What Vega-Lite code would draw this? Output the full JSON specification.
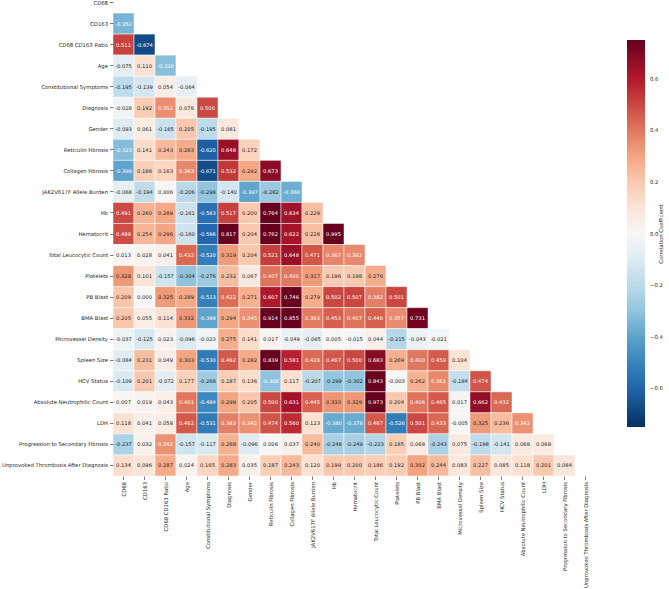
{
"$schema": "https://vega.github.io/schema/vega-lite/v6.json",
"width": 483, "height": 484,
"autosize": {"type": "none"},
"padding": {"left": 113, "top": -8, "right": 73, "bottom": 113},
"background": "white",
"config": {"font": "DejaVu Sans", "view": {"stroke": null}},
"data": {"values": [
{"r":"CD163","c":"CD68","v":-0.352},
{"r":"CD68 CD163 Ratio","c":"CD68","v":0.511},{"r":"CD68 CD163 Ratio","c":"CD163","v":-0.674},
{"r":"Age","c":"CD68","v":-0.075},{"r":"Age","c":"CD163","v":0.110},{"r":"Age","c":"CD68 CD163 Ratio","v":-0.320},
{"r":"Constitutional Symptoms","c":"CD68","v":-0.195},{"r":"Constitutional Symptoms","c":"CD163","v":-0.139},{"r":"Constitutional Symptoms","c":"CD68 CD163 Ratio","v":0.054},{"r":"Constitutional Symptoms","c":"Age","v":-0.064},
{"r":"Diagnosis","c":"CD68","v":-0.028},{"r":"Diagnosis","c":"CD163","v":0.192},{"r":"Diagnosis","c":"CD68 CD163 Ratio","v":0.352},{"r":"Diagnosis","c":"Age","v":0.076},{"r":"Diagnosis","c":"Constitutional Symptoms","v":0.500},
{"r":"Gender","c":"CD68","v":-0.093},{"r":"Gender","c":"CD163","v":0.061},{"r":"Gender","c":"CD68 CD163 Ratio","v":-0.165},{"r":"Gender","c":"Age","v":0.205},{"r":"Gender","c":"Constitutional Symptoms","v":-0.195},{"r":"Gender","c":"Diagnosis","v":0.081},
{"r":"Reticulin Fibrosis","c":"CD68","v":-0.323},{"r":"Reticulin Fibrosis","c":"CD163","v":0.141},{"r":"Reticulin Fibrosis","c":"CD68 CD163 Ratio","v":0.243},{"r":"Reticulin Fibrosis","c":"Age","v":0.283},{"r":"Reticulin Fibrosis","c":"Constitutional Symptoms","v":-0.620},{"r":"Reticulin Fibrosis","c":"Diagnosis","v":0.648},{"r":"Reticulin Fibrosis","c":"Gender","v":0.172},
{"r":"Collagen Fibrosis","c":"CD68","v":-0.399},{"r":"Collagen Fibrosis","c":"CD163","v":0.186},{"r":"Collagen Fibrosis","c":"CD68 CD163 Ratio","v":0.163},{"r":"Collagen Fibrosis","c":"Age","v":0.363},{"r":"Collagen Fibrosis","c":"Constitutional Symptoms","v":-0.671},{"r":"Collagen Fibrosis","c":"Diagnosis","v":0.532},{"r":"Collagen Fibrosis","c":"Gender","v":0.292},{"r":"Collagen Fibrosis","c":"Reticulin Fibrosis","v":0.673},
{"r":"JAK2V617F Allele Burden","c":"CD68","v":-0.068},{"r":"JAK2V617F Allele Burden","c":"CD163","v":-0.194},{"r":"JAK2V617F Allele Burden","c":"CD68 CD163 Ratio","v":0.006},{"r":"JAK2V617F Allele Burden","c":"Age","v":-0.206},{"r":"JAK2V617F Allele Burden","c":"Constitutional Symptoms","v":-0.298},{"r":"JAK2V617F Allele Burden","c":"Diagnosis","v":-0.140},{"r":"JAK2V617F Allele Burden","c":"Gender","v":-0.397},{"r":"JAK2V617F Allele Burden","c":"Reticulin Fibrosis","v":-0.282},{"r":"JAK2V617F Allele Burden","c":"Collagen Fibrosis","v":-0.368},
{"r":"Hb","c":"CD68","v":0.491},{"r":"Hb","c":"CD163","v":0.260},{"r":"Hb","c":"CD68 CD163 Ratio","v":0.289},{"r":"Hb","c":"Age","v":-0.161},{"r":"Hb","c":"Constitutional Symptoms","v":-0.563},{"r":"Hb","c":"Diagnosis","v":0.517},{"r":"Hb","c":"Gender","v":0.200},{"r":"Hb","c":"Reticulin Fibrosis","v":0.764},{"r":"Hb","c":"Collagen Fibrosis","v":0.634},{"r":"Hb","c":"JAK2V617F Allele Burden","v":0.229},
{"r":"Hematocrit","c":"CD68","v":0.489},{"r":"Hematocrit","c":"CD163","v":0.254},{"r":"Hematocrit","c":"CD68 CD163 Ratio","v":0.296},{"r":"Hematocrit","c":"Age","v":-0.160},{"r":"Hematocrit","c":"Constitutional Symptoms","v":-0.596},{"r":"Hematocrit","c":"Diagnosis","v":0.817},{"r":"Hematocrit","c":"Gender","v":0.204},{"r":"Hematocrit","c":"Reticulin Fibrosis","v":0.762},{"r":"Hematocrit","c":"Collagen Fibrosis","v":0.622},{"r":"Hematocrit","c":"JAK2V617F Allele Burden","v":0.228},{"r":"Hematocrit","c":"Hb","v":0.995},
{"r":"Total Leucocytic Count","c":"CD68","v":0.013},{"r":"Total Leucocytic Count","c":"CD163","v":0.028},{"r":"Total Leucocytic Count","c":"CD68 CD163 Ratio","v":0.041},{"r":"Total Leucocytic Count","c":"Age","v":0.432},{"r":"Total Leucocytic Count","c":"Constitutional Symptoms","v":-0.520},{"r":"Total Leucocytic Count","c":"Diagnosis","v":0.319},{"r":"Total Leucocytic Count","c":"Gender","v":0.204},{"r":"Total Leucocytic Count","c":"Reticulin Fibrosis","v":0.521},{"r":"Total Leucocytic Count","c":"Collagen Fibrosis","v":0.648},{"r":"Total Leucocytic Count","c":"JAK2V617F Allele Burden","v":0.471},{"r":"Total Leucocytic Count","c":"Hb","v":0.367},{"r":"Total Leucocytic Count","c":"Hematocrit","v":0.362},
{"r":"Platelets","c":"CD68","v":0.328},{"r":"Platelets","c":"CD163","v":0.101},{"r":"Platelets","c":"CD68 CD163 Ratio","v":-0.157},{"r":"Platelets","c":"Age","v":-0.304},{"r":"Platelets","c":"Constitutional Symptoms","v":-0.276},{"r":"Platelets","c":"Diagnosis","v":0.232},{"r":"Platelets","c":"Gender","v":0.067},{"r":"Platelets","c":"Reticulin Fibrosis","v":0.407},{"r":"Platelets","c":"Collagen Fibrosis","v":0.400},{"r":"Platelets","c":"JAK2V617F Allele Burden","v":0.317},{"r":"Platelets","c":"Hb","v":0.196},{"r":"Platelets","c":"Hematocrit","v":0.198},{"r":"Platelets","c":"Total Leucocytic Count","v":0.276},
{"r":"PB Blast","c":"CD68","v":0.209},{"r":"PB Blast","c":"CD163","v":0.000},{"r":"PB Blast","c":"CD68 CD163 Ratio","v":0.325},{"r":"PB Blast","c":"Age","v":0.289},{"r":"PB Blast","c":"Constitutional Symptoms","v":-0.513},{"r":"PB Blast","c":"Diagnosis","v":0.422},{"r":"PB Blast","c":"Gender","v":0.271},{"r":"PB Blast","c":"Reticulin Fibrosis","v":0.607},{"r":"PB Blast","c":"Collagen Fibrosis","v":0.746},{"r":"PB Blast","c":"JAK2V617F Allele Burden","v":0.279},{"r":"PB Blast","c":"Hb","v":0.502},{"r":"PB Blast","c":"Hematocrit","v":0.507},{"r":"PB Blast","c":"Total Leucocytic Count","v":0.382},{"r":"PB Blast","c":"Platelets","v":0.501},
{"r":"BMA Blast","c":"CD68","v":0.205},{"r":"BMA Blast","c":"CD163","v":0.055},{"r":"BMA Blast","c":"CD68 CD163 Ratio","v":0.114},{"r":"BMA Blast","c":"Age","v":0.332},{"r":"BMA Blast","c":"Constitutional Symptoms","v":-0.399},{"r":"BMA Blast","c":"Diagnosis","v":0.294},{"r":"BMA Blast","c":"Gender","v":0.345},{"r":"BMA Blast","c":"Reticulin Fibrosis","v":0.914},{"r":"BMA Blast","c":"Collagen Fibrosis","v":0.855},{"r":"BMA Blast","c":"JAK2V617F Allele Burden","v":0.393},{"r":"BMA Blast","c":"Hb","v":0.453},{"r":"BMA Blast","c":"Hematocrit","v":0.407},{"r":"BMA Blast","c":"Total Leucocytic Count","v":0.448},{"r":"BMA Blast","c":"Platelets","v":0.357},{"r":"BMA Blast","c":"PB Blast","v":0.731},
{"r":"Microvessel Density","c":"CD68","v":-0.037},{"r":"Microvessel Density","c":"CD163","v":-0.125},{"r":"Microvessel Density","c":"CD68 CD163 Ratio","v":0.023},{"r":"Microvessel Density","c":"Age","v":-0.096},{"r":"Microvessel Density","c":"Constitutional Symptoms","v":-0.023},{"r":"Microvessel Density","c":"Diagnosis","v":0.275},{"r":"Microvessel Density","c":"Gender","v":0.141},{"r":"Microvessel Density","c":"Reticulin Fibrosis","v":0.017},{"r":"Microvessel Density","c":"Collagen Fibrosis","v":-0.049},{"r":"Microvessel Density","c":"JAK2V617F Allele Burden","v":-0.065},{"r":"Microvessel Density","c":"Hb","v":0.005},{"r":"Microvessel Density","c":"Hematocrit","v":-0.015},{"r":"Microvessel Density","c":"Total Leucocytic Count","v":0.044},{"r":"Microvessel Density","c":"Platelets","v":-0.215},{"r":"Microvessel Density","c":"PB Blast","v":-0.043},{"r":"Microvessel Density","c":"BMA Blast","v":-0.021},
{"r":"Spleen Size","c":"CD68","v":-0.084},{"r":"Spleen Size","c":"CD163","v":0.231},{"r":"Spleen Size","c":"CD68 CD163 Ratio","v":0.049},{"r":"Spleen Size","c":"Age","v":0.303},{"r":"Spleen Size","c":"Constitutional Symptoms","v":-0.530},{"r":"Spleen Size","c":"Diagnosis","v":0.462},{"r":"Spleen Size","c":"Gender","v":0.282},{"r":"Spleen Size","c":"Reticulin Fibrosis","v":0.839},{"r":"Spleen Size","c":"Collagen Fibrosis","v":0.581},{"r":"Spleen Size","c":"JAK2V617F Allele Burden","v":0.428},{"r":"Spleen Size","c":"Hb","v":0.467},{"r":"Spleen Size","c":"Hematocrit","v":0.500},{"r":"Spleen Size","c":"Total Leucocytic Count","v":0.683},{"r":"Spleen Size","c":"Platelets","v":0.269},{"r":"Spleen Size","c":"PB Blast","v":0.400},{"r":"Spleen Size","c":"BMA Blast","v":0.459},{"r":"Spleen Size","c":"Microvessel Density","v":0.104},
{"r":"HCV Status","c":"CD68","v":-0.109},{"r":"HCV Status","c":"CD163","v":0.201},{"r":"HCV Status","c":"CD68 CD163 Ratio","v":-0.072},{"r":"HCV Status","c":"Age","v":0.177},{"r":"HCV Status","c":"Constitutional Symptoms","v":-0.268},{"r":"HCV Status","c":"Diagnosis","v":0.187},{"r":"HCV Status","c":"Gender","v":0.136},{"r":"HCV Status","c":"Reticulin Fibrosis","v":-0.306},{"r":"HCV Status","c":"Collagen Fibrosis","v":0.117},{"r":"HCV Status","c":"JAK2V617F Allele Burden","v":-0.207},{"r":"HCV Status","c":"Hb","v":-0.299},{"r":"HCV Status","c":"Hematocrit","v":-0.302},{"r":"HCV Status","c":"Total Leucocytic Count","v":0.843},{"r":"HCV Status","c":"Platelets","v":-0.003},{"r":"HCV Status","c":"PB Blast","v":0.262},{"r":"HCV Status","c":"BMA Blast","v":0.361},{"r":"HCV Status","c":"Microvessel Density","v":-0.184},{"r":"HCV Status","c":"Spleen Size","v":0.474},
{"r":"Absolute Neutrophilic Count","c":"CD68","v":0.007},{"r":"Absolute Neutrophilic Count","c":"CD163","v":0.019},{"r":"Absolute Neutrophilic Count","c":"CD68 CD163 Ratio","v":0.043},{"r":"Absolute Neutrophilic Count","c":"Age","v":0.401},{"r":"Absolute Neutrophilic Count","c":"Constitutional Symptoms","v":-0.484},{"r":"Absolute Neutrophilic Count","c":"Diagnosis","v":0.299},{"r":"Absolute Neutrophilic Count","c":"Gender","v":0.205},{"r":"Absolute Neutrophilic Count","c":"Reticulin Fibrosis","v":0.500},{"r":"Absolute Neutrophilic Count","c":"Collagen Fibrosis","v":0.631},{"r":"Absolute Neutrophilic Count","c":"JAK2V617F Allele Burden","v":0.445},{"r":"Absolute Neutrophilic Count","c":"Hb","v":0.333},{"r":"Absolute Neutrophilic Count","c":"Hematocrit","v":0.329},{"r":"Absolute Neutrophilic Count","c":"Total Leucocytic Count","v":0.973},{"r":"Absolute Neutrophilic Count","c":"Platelets","v":0.204},{"r":"Absolute Neutrophilic Count","c":"PB Blast","v":0.406},{"r":"Absolute Neutrophilic Count","c":"BMA Blast","v":0.465},{"r":"Absolute Neutrophilic Count","c":"Microvessel Density","v":0.017},{"r":"Absolute Neutrophilic Count","c":"Spleen Size","v":0.662},{"r":"Absolute Neutrophilic Count","c":"HCV Status","v":0.432},
{"r":"LDH","c":"CD68","v":0.118},{"r":"LDH","c":"CD163","v":0.041},{"r":"LDH","c":"CD68 CD163 Ratio","v":0.058},{"r":"LDH","c":"Age","v":0.462},{"r":"LDH","c":"Constitutional Symptoms","v":-0.531},{"r":"LDH","c":"Diagnosis","v":0.383},{"r":"LDH","c":"Gender","v":0.342},{"r":"LDH","c":"Reticulin Fibrosis","v":0.474},{"r":"LDH","c":"Collagen Fibrosis","v":0.560},{"r":"LDH","c":"JAK2V617F Allele Burden","v":0.123},{"r":"LDH","c":"Hb","v":-0.380},{"r":"LDH","c":"Hematocrit","v":-0.376},{"r":"LDH","c":"Total Leucocytic Count","v":0.467},{"r":"LDH","c":"Platelets","v":-0.526},{"r":"LDH","c":"PB Blast","v":0.501},{"r":"LDH","c":"BMA Blast","v":0.433},{"r":"LDH","c":"Microvessel Density","v":-0.005},{"r":"LDH","c":"Spleen Size","v":0.325},{"r":"LDH","c":"HCV Status","v":0.236},{"r":"LDH","c":"Absolute Neutrophilic Count","v":0.342},
{"r":"Progression to Secondary Fibrosis","c":"CD68","v":-0.237},{"r":"Progression to Secondary Fibrosis","c":"CD163","v":0.032},{"r":"Progression to Secondary Fibrosis","c":"CD68 CD163 Ratio","v":0.342},{"r":"Progression to Secondary Fibrosis","c":"Age","v":-0.157},{"r":"Progression to Secondary Fibrosis","c":"Constitutional Symptoms","v":-0.117},{"r":"Progression to Secondary Fibrosis","c":"Diagnosis","v":0.268},{"r":"Progression to Secondary Fibrosis","c":"Gender","v":-0.096},{"r":"Progression to Secondary Fibrosis","c":"Reticulin Fibrosis","v":0.006},{"r":"Progression to Secondary Fibrosis","c":"Collagen Fibrosis","v":0.037},{"r":"Progression to Secondary Fibrosis","c":"JAK2V617F Allele Burden","v":0.240},{"r":"Progression to Secondary Fibrosis","c":"Hb","v":-0.248},{"r":"Progression to Secondary Fibrosis","c":"Hematocrit","v":-0.249},{"r":"Progression to Secondary Fibrosis","c":"Total Leucocytic Count","v":-0.223},{"r":"Progression to Secondary Fibrosis","c":"Platelets","v":0.185},{"r":"Progression to Secondary Fibrosis","c":"PB Blast","v":0.068},{"r":"Progression to Secondary Fibrosis","c":"BMA Blast","v":-0.243},{"r":"Progression to Secondary Fibrosis","c":"Microvessel Density","v":0.075},{"r":"Progression to Secondary Fibrosis","c":"Spleen Size","v":-0.198},{"r":"Progression to Secondary Fibrosis","c":"HCV Status","v":-0.141},{"r":"Progression to Secondary Fibrosis","c":"Absolute Neutrophilic Count","v":0.068},{"r":"Progression to Secondary Fibrosis","c":"LDH","v":0.068},
{"r":"Unprovoked Thrombosis After Diagnosis","c":"CD68","v":0.134},{"r":"Unprovoked Thrombosis After Diagnosis","c":"CD163","v":0.096},{"r":"Unprovoked Thrombosis After Diagnosis","c":"CD68 CD163 Ratio","v":0.287},{"r":"Unprovoked Thrombosis After Diagnosis","c":"Age","v":0.024},{"r":"Unprovoked Thrombosis After Diagnosis","c":"Constitutional Symptoms","v":0.165},{"r":"Unprovoked Thrombosis After Diagnosis","c":"Diagnosis","v":0.283},{"r":"Unprovoked Thrombosis After Diagnosis","c":"Gender","v":0.035},{"r":"Unprovoked Thrombosis After Diagnosis","c":"Reticulin Fibrosis","v":0.187},{"r":"Unprovoked Thrombosis After Diagnosis","c":"Collagen Fibrosis","v":0.243},{"r":"Unprovoked Thrombosis After Diagnosis","c":"JAK2V617F Allele Burden","v":0.120},{"r":"Unprovoked Thrombosis After Diagnosis","c":"Hb","v":0.199},{"r":"Unprovoked Thrombosis After Diagnosis","c":"Hematocrit","v":0.200},{"r":"Unprovoked Thrombosis After Diagnosis","c":"Total Leucocytic Count","v":0.186},{"r":"Unprovoked Thrombosis After Diagnosis","c":"Platelets","v":0.192},{"r":"Unprovoked Thrombosis After Diagnosis","c":"PB Blast","v":0.302},{"r":"Unprovoked Thrombosis After Diagnosis","c":"BMA Blast","v":0.244},{"r":"Unprovoked Thrombosis After Diagnosis","c":"Microvessel Density","v":0.083},{"r":"Unprovoked Thrombosis After Diagnosis","c":"Spleen Size","v":0.227},{"r":"Unprovoked Thrombosis After Diagnosis","c":"HCV Status","v":0.085},{"r":"Unprovoked Thrombosis After Diagnosis","c":"Absolute Neutrophilic Count","v":0.118},{"r":"Unprovoked Thrombosis After Diagnosis","c":"LDH","v":0.201},{"r":"Unprovoked Thrombosis After Diagnosis","c":"Progression to Secondary Fibrosis","v":0.084}
]},
"transform": [{"calculate": "replace(format(datum.v, '.3f'), '\u2212', '-')", "as": "lab"}],
"encoding": {
  "x": {"field": "c", "type": "nominal",
    "scale": {"domain": ["CD68","CD163","CD68 CD163 Ratio","Age","Constitutional Symptoms","Diagnosis","Gender","Reticulin Fibrosis","Collagen Fibrosis","JAK2V617F Allele Burden","Hb","Hematocrit","Total Leucocytic Count","Platelets","PB Blast","BMA Blast","Microvessel Density","Spleen Size","HCV Status","Absolute Neutrophilic Count","LDH","Progression to Secondary Fibrosis","Unprovoked Thrombosis After Diagnosis"], "paddingInner": 0, "paddingOuter": 0},
    "axis": {"title": null, "labelAngle": -90, "labelAlign": "right", "labelBaseline": "middle", "labelFontSize": 5.3, "labelColor": "#262626", "tickColor": "#262626", "tickSize": 3.5, "tickWidth": 0.6, "domain": false, "labelPadding": 2, "labelLimit": 300}},
  "y": {"field": "r", "type": "nominal",
    "scale": {"domain": ["CD68","CD163","CD68 CD163 Ratio","Age","Constitutional Symptoms","Diagnosis","Gender","Reticulin Fibrosis","Collagen Fibrosis","JAK2V617F Allele Burden","Hb","Hematocrit","Total Leucocytic Count","Platelets","PB Blast","BMA Blast","Microvessel Density","Spleen Size","HCV Status","Absolute Neutrophilic Count","LDH","Progression to Secondary Fibrosis","Unprovoked Thrombosis After Diagnosis"], "paddingInner": 0, "paddingOuter": 0},
    "axis": {"title": null, "labelFontSize": 5.3, "labelColor": "#262626", "tickColor": "#262626", "tickSize": 3.5, "tickWidth": 0.6, "domain": false, "labelPadding": 2, "labelLimit": 300}}
},
"layer": [
  {"mark": {"type": "rect", "stroke": "white", "strokeWidth": 0.5},
   "encoding": {"color": {"field": "v", "type": "quantitative",
     "scale": {"domain": [-0.75,-0.6,-0.45,-0.3,-0.15,0,0.15,0.3,0.45,0.6,0.75], "range": ["#053061","#2166ac","#4393c3","#92c5de","#d1e5f0","#f7f7f7","#fddbc7","#f4a582","#d6604d","#b2182b","#67001f"], "clamp": true, "interpolate": "rgb"},
     "legend": {"orient": "none", "legendX": 514, "legendY": 48, "direction": "vertical", "gradientLength": 387, "gradientThickness": 18, "gradientStrokeWidth": 0, "values": [-0.6,-0.4,-0.2,0,0.2,0.4,0.6], "format": ".1f", "labelFontSize": 5.3, "labelColor": "#262626", "labelOffset": 5, "title": "Correlation Coefficient", "titleOrient": "right", "titleFontSize": 5.3, "titleFontWeight": "normal", "titleColor": "#262626", "titleAnchor": "middle", "titlePadding": 1,
       "encode": {"title": {"update": {"angle": {"value": -90}}}}}}}},
  {"mark": {"type": "text", "fontSize": 5.2, "font": "DejaVu Sans"},
   "encoding": {"text": {"field": "lab"},
     "color": {"condition": {"test": "datum.v > 0.335 || datum.v < -0.305", "value": "white"}, "value": "#262626"}}}
]
}
